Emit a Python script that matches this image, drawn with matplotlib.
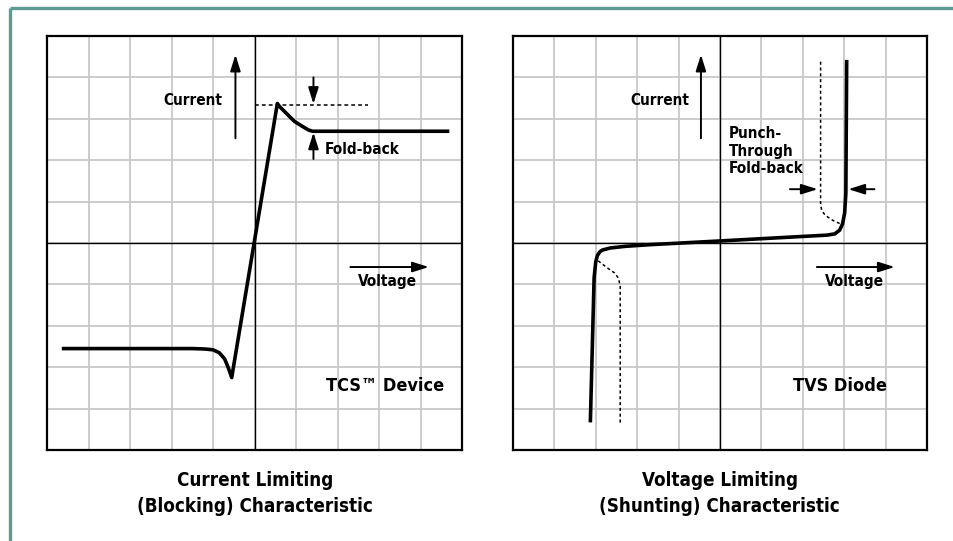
import numpy as np
import matplotlib.pyplot as plt
from matplotlib.lines import Line2D

# TCS device curve (grid units, origin at centre of the grid)
tcs_x = [-4.6, -1.5, -1.2, -1.0, -0.85, -0.72, -0.63, -0.55,
         0.55, 0.6, 0.72, 0.85, 0.96, 1.1, 1.2, 1.3, 1.4, 4.65]
tcs_y = [-2.55, -2.55, -2.56, -2.58, -2.65, -2.8, -3.02, -3.25,
         3.37, 3.3, 3.18, 3.05, 2.94, 2.85, 2.79, 2.73, 2.7, 2.7]
# trip level (dashed)
trip_x = [0.0, 2.73]
trip_y = [3.33, 3.33]

# TVS diode curve
tvs_x = [-3.13, -3.04, -3.0, -2.96, -2.9, -2.84, -2.65, -2.29, -1.69, 0.0,
         2.2, 2.58, 2.77, 2.89, 2.96, 3.01, 3.04, 3.06]
tvs_y = [-4.29, -0.84, -0.45, -0.3, -0.21, -0.17, -0.12, -0.08, -0.04, 0.05,
         0.17, 0.19, 0.22, 0.31, 0.46, 0.72, 1.2, 4.38]
# punch-through fold-back (dashed)
pt_up_x = [2.43, 2.43, 2.46, 2.52, 2.6, 2.72, 2.85, 2.94]
pt_up_y = [4.38, 0.92, 0.78, 0.7, 0.63, 0.55, 0.49, 0.45]
pt_dn_x = [-2.94, -2.75, -2.55, -2.45, -2.41, -2.41]
pt_dn_y = [-0.43, -0.58, -0.72, -0.85, -1.05, -4.34]

titles = [('Current Limiting', '(Blocking) Characteristic'),
          ('Voltage Limiting', '(Shunting) Characteristic')]
devices = ['TCS\u2122 Device', 'TVS Diode']

FONT = dict(family='DejaVu Sans', fontstretch='condensed', fontweight='bold')
GRID = '#c8c8c8'
FRAME = '#5e9b91'


def arrow(ax, x0, y0, x1, y1):
    ax.annotate('', xy=(x1, y1), xytext=(x0, y0),
                arrowprops=dict(arrowstyle='-|>,head_length=0.7,head_width=0.22',
                                color='black', lw=1.4, shrinkA=0, shrinkB=0,
                                mutation_scale=14))


def label(ax, x, y, s, size=11, ha='left', **kw):
    ax.text(x, y, s, fontsize=size, ha=ha, va='center', **FONT, **kw)


def setup(ax):
    ax.set_xlim(-5, 5)
    ax.set_ylim(-5, 5)
    ax.set_xticks(np.arange(-5, 6))
    ax.set_yticks(np.arange(-5, 6))
    ax.grid(True, color=GRID, lw=1.3)
    ax.tick_params(length=0, labelbottom=False, labelleft=False)
    for s in ax.spines.values():
        s.set_linewidth(1.6)
    ax.axhline(0, color='black', lw=1.0, zorder=2)
    ax.axvline(0, color='black', lw=1.0, zorder=2)
    ax.set_axisbelow(True)


fig = plt.figure(figsize=(9.54, 5.41), dpi=100)
ax1 = fig.add_axes([0.0493, 0.1682, 0.435, 0.7652])
ax2 = fig.add_axes([0.5377, 0.1682, 0.434, 0.7652])

for ax in (ax1, ax2):
    setup(ax)

# left panel
ax1.plot(tcs_x, tcs_y, color='black', lw=2.6, solid_joinstyle='round', zorder=3)
ax1.plot(trip_x, trip_y, color='black', lw=1.1, ls=(0, (2.5, 2)), zorder=3)
arrow(ax1, -0.46, 2.53, -0.46, 4.55)
label(ax1, -0.78, 3.44, 'Current', ha='right')
arrow(ax1, 1.42, 4.0, 1.42, 3.36)
arrow(ax1, 1.42, 2.03, 1.42, 2.67)
label(ax1, 1.69, 2.27, 'Fold-back')
arrow(ax1, 2.31, -0.58, 4.2, -0.58)
label(ax1, 2.48, -0.92, 'Voltage')
label(ax1, 1.73, -3.45, devices[0], size=13)

# right panel
ax2.plot(tvs_x, tvs_y, color='black', lw=2.6, solid_joinstyle='round', zorder=3)
ax2.plot(pt_up_x, pt_up_y, color='black', lw=1.1, ls=(0, (2, 1.8)), zorder=3)
ax2.plot(pt_dn_x, pt_dn_y, color='black', lw=1.1, ls=(0, (2, 1.8)), zorder=3)
arrow(ax2, -0.46, 2.53, -0.46, 4.55)
label(ax2, -0.75, 3.44, 'Current', ha='right')
label(ax2, 0.22, 2.22, 'Punch-\nThrough\nFold-back', linespacing=1.2)
arrow(ax2, 1.69, 1.3, 2.36, 1.3)
arrow(ax2, 3.73, 1.3, 3.1, 1.3)
arrow(ax2, 2.34, -0.58, 4.22, -0.58)
label(ax2, 2.53, -0.92, 'Voltage')
label(ax2, 1.76, -3.45, devices[1], size=13)

# captions under the panels
for xc, (l1, l2) in zip([0.2675, 0.7545], titles):
    fig.text(xc, 1 - 480 / 541, l1, fontsize=13.5, ha='center', va='center', **FONT)
    fig.text(xc, 1 - 507 / 541, l2, fontsize=13.5, ha='center', va='center', **FONT)

# teal frame along the top and left edge
fig.add_artist(Line2D([0.0105, 1.0], [1 - 8 / 541, 1 - 8 / 541], color=FRAME, lw=2.4,
                      transform=fig.transFigure, solid_capstyle='butt'))
fig.add_artist(Line2D([0.0105, 0.0105], [1 - 8 / 541, 0.0], color=FRAME, lw=2.4,
                      transform=fig.transFigure, solid_capstyle='butt'))

fig.savefig('out.png', dpi=100)
